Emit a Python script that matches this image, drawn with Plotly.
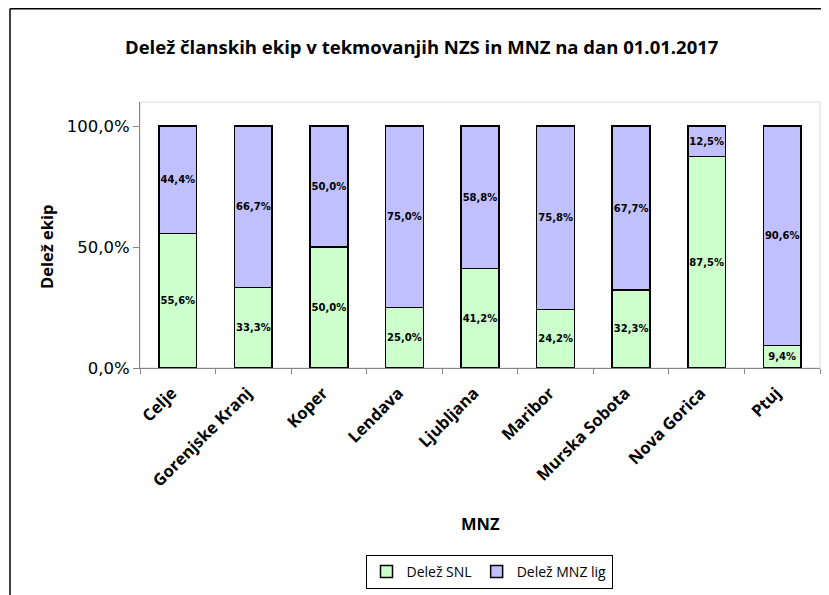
import plotly.graph_objects as go

categories = ["Celje", "Gorenjske Kranj", "Koper", "Lendava", "Ljubljana",
              "Maribor", "Murska Sobota", "Nova Gorica", "Ptuj"]
snl = [0.556, 0.333, 0.500, 0.250, 0.412, 0.242, 0.323, 0.875, 0.094]
mnz = [0.444, 0.667, 0.500, 0.750, 0.588, 0.758, 0.677, 0.125, 0.906]
y_ticks = [0, 0.5, 1.0]

W, H = 829, 595
OFF = 8  # page offset of the figure (body margin)
# plot area in page coordinates: x 140..820, y 102..368
L = 140 - OFF
T = 102 - OFF
R = W - (820 - OFF)
B = H - (368 - OFF)
pw, ph = W - L - R, H - T - B

def px(x):  # page x -> paper
    return (x - OFF - L) / pw

def py(y):  # page y -> paper
    return (H - B - (y - OFF)) / ph

lab_font = dict(family="DejaVu Sans", size=10, color="black")

fig = go.Figure()
fig.add_trace(go.Bar(
    x=categories, y=snl, name="Delež SNL",
    marker=dict(color="#CCFFCC", line=dict(color="black", width=1.5)),
    texttemplate="<b>%{y:.1%}</b>", textposition="inside",
    insidetextanchor="middle", textangle=0, constraintext="none",
    textfont=lab_font, hoverinfo="skip",
))
fig.add_trace(go.Bar(
    x=categories, y=mnz, name="Delež MNZ lig",
    marker=dict(color="#C0C0FF", line=dict(color="black", width=1.5)),
    texttemplate="<b>%{y:.1%}</b>", textposition="inside",
    insidetextanchor="middle", textangle=0, constraintext="none",
    textfont=lab_font, hoverinfo="skip",
))

fig.update_layout(
    width=W, height=H,
    margin=dict(l=L, r=R, t=T, b=B, autoexpand=False),
    barmode="stack", bargap=0.5,
    separators=", ",
    paper_bgcolor="white", plot_bgcolor="white",
    showlegend=True,
    legend=dict(orientation="h", x=px(489), y=py(572), xanchor="center",
                yanchor="middle", bordercolor="black", borderwidth=1,
                font=dict(family="Open Sans", size=14, color="black"),
                traceorder="normal", itemwidth=30, tracegroupgap=0),
    xaxis=dict(type="category", showline=True, linecolor="#868686", linewidth=1,
               ticks="outside", tickson="boundaries", ticklen=5, tickcolor="#868686",
               tickangle=-45, showgrid=False, automargin=False,
               ticklabelstandoff=8, ticklabelshift=-6,
               tickfont=dict(family="Open Sans", size=16.5, color="black", weight="bold")),
    yaxis=dict(range=[0, 1.1], tickvals=y_ticks, tickformat=".1%",
               showline=True, linecolor="#868686", linewidth=1,
               ticks="outside", ticklen=6, tickcolor="#868686",
               showgrid=False, zeroline=False, automargin=False,
               tickfont=dict(family="DejaVu Sans", size=16.5, color="black")),
    shapes=[
        dict(type="rect", xref="paper", yref="paper", x0=0, x1=1, y0=0, y1=1,
             line=dict(color="#D9D9D9", width=1), layer="below"),
        dict(type="line", xref="paper", yref="paper", x0=px(10), x1=px(W + 20),
             y0=py(8.8), y1=py(8.8), line=dict(color="black", width=1.5)),
        dict(type="line", xref="paper", yref="paper", x0=px(10), x1=px(10),
             y0=py(8.8), y1=py(H + 20), line=dict(color="black", width=1.5)),
    ],
    annotations=[
        dict(text="<b>Delež članskih ekip v tekmovanjih NZS in MNZ na dan 01.01.2017</b>",
             xref="paper", yref="paper", x=px(421), y=py(47), xanchor="center",
             yanchor="middle", showarrow=False,
             font=dict(family="Open Sans", size=18.5, color="black")),
        dict(text="<b>Delež ekip</b>", xref="paper", yref="paper", x=px(46),
             y=py(247), xanchor="center", yanchor="middle", textangle=-90,
             showarrow=False, font=dict(family="Open Sans", size=16.5, color="black")),
        dict(text="<b>MNZ</b>", xref="paper", yref="paper", x=px(480), y=py(523),
             xanchor="center", yanchor="middle", showarrow=False,
             font=dict(family="Open Sans", size=16.5, color="black")),
    ],
)

fig.write_html("out.html")
